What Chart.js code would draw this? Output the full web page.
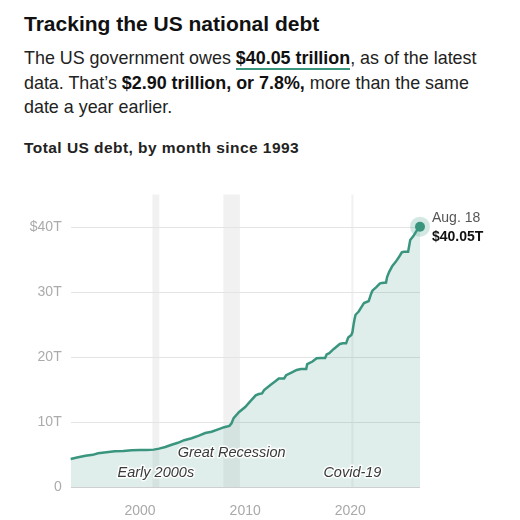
<!DOCTYPE html>
<html>
<head>
<meta charset="utf-8">
<script src="https://cdn.jsdelivr.net/npm/chart.js@4.4.1/dist/chart.umd.min.js"></script>
<style>
  html, body { margin: 0; padding: 0; background: #fff; }
  body { width: 520px; height: 520px; position: relative; overflow: hidden;
         font-family: "Liberation Sans", Arial, sans-serif; color: #1c1c1c; }
  .t { position: absolute; left: 24px; white-space: nowrap; margin: 0; }
  h1.t { top: 10px; font-size: 21px; line-height: 28px; font-weight: 700; color: #111; }
  p.t { top: 46px; font-size: 17.9px; line-height: 24.7px; font-weight: 400; color: #222; }
  p.t b { color: #111; }
  .ul { border-bottom: 2px solid #3a957f; }
  .sub { top: 138px; font-size: 15.5px; line-height: 20px; font-weight: 700; color: #222; letter-spacing: 0.45px; }
  #wrap { position: absolute; left: 0; top: 170px; width: 520px; height: 350px; }
</style>
</head>
<body>
<h1 class="t">Tracking the US national debt</h1>
<p class="t">The US government owes <b class="ul">$40.05 trillion</b>, as of the latest<br>data. That’s <b>$2.90 trillion, or 7.8%,</b> more than the same<br>date a year earlier.</p>
<div class="t sub">Total US debt, by month since 1993</div>
<div id="wrap"><canvas id="debtChart"></canvas></div>

<script>
// monthly readings, decimal years
const months = [
  1993.4, 1994.0, 1994.8, 1995.5, 1996.0, 1996.8, 1997.6, 1998.4, 1999.2, 2000.0,
  2000.6, 2001.3, 2001.8, 2002.4, 2003.0, 2003.6, 2004.2, 2004.9, 2005.6, 2006.2,
  2006.8, 2007.5, 2008.0, 2008.5, 2008.7, 2008.9, 2009.4, 2010.0, 2010.5, 2011.0,
  2011.3, 2011.6, 2011.8, 2012.4, 2012.9, 2013.2, 2013.7, 2013.9, 2014.4, 2014.9,
  2015.3, 2015.8, 2015.9, 2016.4, 2016.8, 2017.2, 2017.6, 2017.75, 2018.0, 2018.4,
  2019.0, 2019.3, 2019.6, 2019.8, 2020.1, 2020.2, 2020.3, 2020.4, 2020.5, 2020.8,
  2021.1, 2021.3, 2021.6, 2021.75, 2021.95, 2022.1, 2022.5, 2022.8, 2023.0, 2023.4,
  2023.5, 2023.7, 2024.0, 2024.3, 2024.6, 2024.9, 2025.1, 2025.5, 2025.7, 2026.0,
  2026.3, 2026.63
];
const debt = [
  4.3, 4.55, 4.8, 4.95, 5.2, 5.35, 5.5, 5.55, 5.65, 5.7,
  5.68, 5.75, 5.9, 6.15, 6.5, 6.8, 7.2, 7.5, 7.9, 8.3,
  8.5, 8.9, 9.2, 9.4, 9.8, 10.6, 11.5, 12.3, 13.2, 14.1,
  14.3, 14.4, 14.9, 15.7, 16.3, 16.7, 16.7, 17.2, 17.6, 18.0,
  18.15, 18.15, 18.9, 19.3, 19.8, 19.85, 19.85, 20.4, 20.6, 21.2,
  22.0, 22.1, 22.1, 23.0, 23.4, 23.8, 24.9, 25.8, 26.5, 27.0,
  27.8, 28.3, 28.5, 28.6, 29.6, 30.2, 30.8, 31.3, 31.4, 31.45,
  32.3, 33.1, 34.0, 34.6, 35.3, 36.1, 36.2, 36.2, 38.0, 38.6,
  39.4, 40.05
];

// recessions: names, start, end
const recessionNames = ['Early 2000s', 'Great Recession', 'Covid-19'];
const recessionStart = [2001.17, 2007.92, 2020.1];
const recessionEnd = [2001.83, 2009.5, 2020.3];

const tickYears = [2000, 2010, 2020];
const yTicks = [0, 10, 20, 30, 40];
const yTickLabels = ['0', '10T', '20T', '30T', '$40T'];

const lastDate = 'Aug. 18';
const lastValue = '$40.05T';

const teal = '#3a957f';

const recessionPlugin = {
    id: 'recessions',
    beforeDraw(chart) {
        const { ctx, chartArea, scales } = chart;
        ctx.save();
        ctx.fillStyle = 'rgba(0,0,0,0.055)';
        recessionStart.forEach((s, i) => {
            const x0 = scales.x.getPixelForValue(s);
            const x1 = scales.x.getPixelForValue(recessionEnd[i]);
            ctx.fillRect(x0, chartArea.top, x1 - x0, chartArea.bottom - chartArea.top);
        });
        ctx.restore();
    },
    afterDatasetsDraw(chart) {
        const { ctx, chartArea, scales } = chart;
        ctx.save();
        ctx.font = 'italic 14.5px "Liberation Sans", Arial, sans-serif';
        ctx.textAlign = 'center';
        ctx.textBaseline = 'alphabetic';
        ctx.lineJoin = 'round';
        recessionNames.forEach((name, i) => {
            const x = scales.x.getPixelForValue((recessionStart[i] + recessionEnd[i]) / 2);
            const lift = i === 1 ? 30 : 10;   // great recession sits one row up
            const y = chartArea.bottom - lift;
            ctx.strokeStyle = 'rgba(255,255,255,0.9)';
            ctx.lineWidth = 3;
            ctx.strokeText(name, x, y);
            ctx.fillStyle = '#3a3a3a';
            ctx.fillText(name, x, y);
        });

        // end label
        const n = debt.length - 1;
        const px = scales.x.getPixelForValue(months[n]);
        const py = scales.y.getPixelForValue(debt[n]);
        ctx.textAlign = 'left';
        ctx.font = '14px "Liberation Sans", Arial, sans-serif';
        ctx.fillStyle = '#555';
        ctx.fillText(lastDate, px + 12, py - 4.5);
        ctx.font = 'bold 14px "Liberation Sans", Arial, sans-serif';
        ctx.fillStyle = '#111';
        ctx.fillText(lastValue, px + 12, py + 14);
        ctx.restore();
    }
};

const debtCtx = document.getElementById('debtChart').getContext('2d');
new Chart(debtCtx, {
    type: 'line',
    data: {
        datasets: [{
            label: 'Total US debt',
            data: months.map((m, i) => ({ x: m, y: debt[i] })),
            borderColor: teal,
            borderWidth: 2.5,
            tension: 0,
            fill: 'origin',
            backgroundColor: 'rgba(60,150,128,0.165)',
            pointRadius: ctx => ctx.dataIndex === debt.length - 1 ? 5 : 0,
            pointBackgroundColor: teal,
            pointBorderWidth: 0,
            clip: false,
            order: 1
        }, {
            label: 'halo',
            data: [{ x: months[months.length - 1], y: debt[debt.length - 1] }],
            pointRadius: 10,
            pointBackgroundColor: 'rgba(60,150,128,0.22)',
            pointBorderWidth: 0,
            showLine: false,
            clip: false,
            order: 2
        }]
    },
    options: {
        responsive: true,
        maintainAspectRatio: false,
        animation: false,
        layout: { padding: { left: 20.7, right: 100, top: 24.5, bottom: 0 } },
        plugins: {
            legend: { display: false },
            tooltip: { enabled: false }
        },
        scales: {
            x: {
                type: 'linear',
                min: months[0],
                max: months[months.length - 1],
                grid: { display: false },
                border: { display: false },
                afterBuildTicks: axis => { axis.ticks = tickYears.map(v => ({ value: v })); },
                afterFit: axis => { axis.height = 33; },
                ticks: {
                    padding: 8,
                    color: '#a9a9a9',
                    font: { size: 14, family: '"Liberation Sans", Arial, sans-serif' },
                    maxRotation: 0,
                    callback: v => String(v)
                }
            },
            y: {
                min: 0,
                max: 45,
                afterBuildTicks: axis => { axis.ticks = yTicks.map(v => ({ value: v })); },
                afterFit: axis => { axis.width = 50; },
                grid: {
                    color: c => c.tick && c.tick.value === 0 ? '#cfcfcf' : '#e4e4e4',
                    lineWidth: 1,
                    drawTicks: false
                },
                border: { display: false },
                ticks: {
                    padding: 9,
                    color: '#ababab',
                    font: { size: 14, family: '"Liberation Sans", Arial, sans-serif' },
                    callback: v => yTickLabels[yTicks.indexOf(v)]
                }
            }
        }
    },
    plugins: [recessionPlugin]
});
</script>
</body>
</html>
